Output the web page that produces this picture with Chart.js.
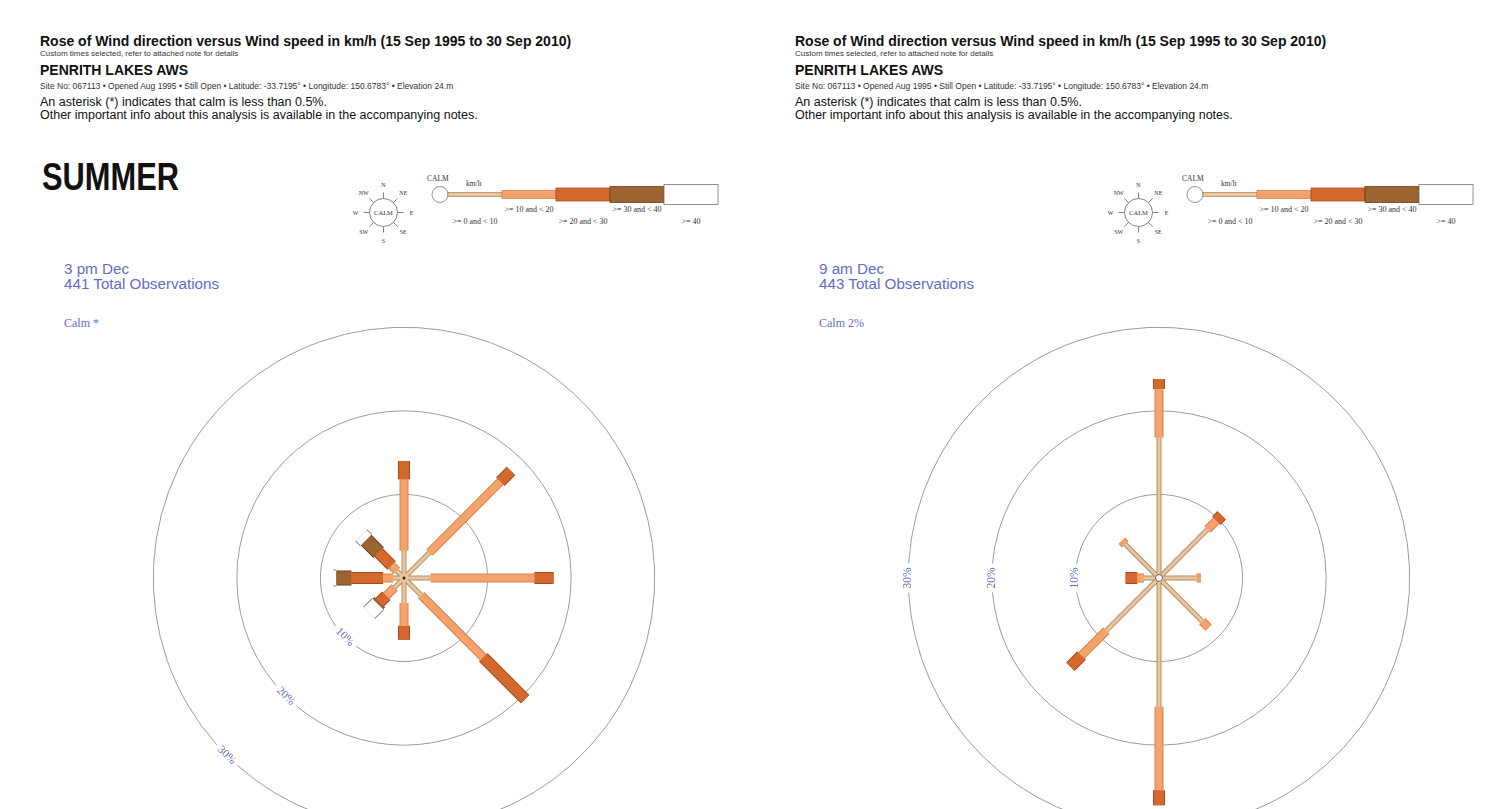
<!DOCTYPE html>
<html>
<head>
<meta charset="utf-8">
<title>Rose of Wind direction versus Wind speed</title>
<script src="https://cdn.jsdelivr.net/npm/chart.js@4.4.1/dist/chart.umd.min.js"></script>
<style>
  html, body { margin: 0; padding: 0; background: #fff; width: 1509px; height: 809px; overflow: hidden; }
  body { position: relative; font-family: "Liberation Sans", Arial, sans-serif; color: #111; }
  .panel { position: absolute; top: 0; width: 755px; height: 809px; }
  .t { position: absolute; white-space: nowrap; }
  .title { left: 40px; top: 34px; font-size: 14px; line-height: 14px; font-weight: bold; }
  .small { left: 40px; font-size: 8.5px; line-height: 8.5px; color: #333; }
  .station { left: 40px; top: 62.5px; font-size: 14px; line-height: 14px; font-weight: bold; }
  .note { left: 40px; top: 96px; font-size: 12.5px; line-height: 12.6px; }
  .season { left: 42px; top: 157px; font-weight: bold; font-size: 39px; line-height: 39px; transform: scaleX(0.79); transform-origin: 0 0; }
  .obs { left: 64px; top: 261px; font-size: 15.2px; line-height: 15px; color: #5f6ec8; }
  .calm { left: 64px; top: 317px; font-family: "Liberation Serif", serif; font-size: 12px; line-height: 12px; color: #5f6ec8; }
  .key { position: absolute; left: 340px; top: 170px; }
  .key text { font-family: "Liberation Serif", serif; fill: #333; }
  canvas.rose { position: absolute; left: 124px; top: 298px; }
</style>
</head>
<body>

<div class="panel" style="left:0px">
  <div class="t title">Rose of Wind direction versus Wind speed in km/h (15 Sep 1995 to 30 Sep 2010)</div>
  <div class="t small" style="top:49.5px; font-size:8px">Custom times selected, refer to attached note for details</div>
  <div class="t station">PENRITH LAKES AWS</div>
  <div class="t small" style="top:82px">Site No: 067113 • Opened Aug 1995 • Still Open • Latitude: -33.7195° • Longitude: 150.6783° • Elevation 24.m</div>
  <div class="t note">An asterisk (*) indicates that calm is less than 0.5%.<br>Other important info about this analysis is available in the accompanying notes.</div>
  <div class="t season">SUMMER</div>
  <svg class="key" width="390" height="75"></svg>
  <div class="t obs">3 pm Dec<br>441 Total Observations</div>
  <div class="t calm">Calm *</div>
  <canvas class="rose" id="rosePm" width="560" height="560"></canvas>
</div>

<div class="panel" style="left:755px">
  <div class="t title">Rose of Wind direction versus Wind speed in km/h (15 Sep 1995 to 30 Sep 2010)</div>
  <div class="t small" style="top:49.5px; font-size:8px">Custom times selected, refer to attached note for details</div>
  <div class="t station">PENRITH LAKES AWS</div>
  <div class="t small" style="top:82px">Site No: 067113 • Opened Aug 1995 • Still Open • Latitude: -33.7195° • Longitude: 150.6783° • Elevation 24.m</div>
  <div class="t note">An asterisk (*) indicates that calm is less than 0.5%.<br>Other important info about this analysis is available in the accompanying notes.</div>
  <svg class="key" width="390" height="75"></svg>
  <div class="t obs">9 am Dec<br>443 Total Observations</div>
  <div class="t calm">Calm 2%</div>
  <canvas class="rose" id="roseAm" width="560" height="560"></canvas>
</div>

<script>
// wind rose data, % of observations, one array per speed class (order follows directions)
const directions = ['N', 'NE', 'E', 'SE', 'S', 'SW', 'W', 'NW'];
const directionAngles = [0, 45, 90, 135, 180, 225, 270, 315];
const speedClasses = ['>= 0 and < 10', '>= 10 and < 20', '>= 20 and < 30', '>= 30 and < 40', '>= 40'];
const ringLevels = [10, 20, 30];

// 3 pm Dec
const pm3Speed0to10  = [3.3, 4.3, 3.2, 2.9, 3.0, 1.6, 1.3, 1.2];
const pm3Speed10to20 = [8.5, 12.0, 12.4, 10.5, 2.7, 1.4, 1.2, 0.9];
const pm3Speed20to30 = [2.2, 1.8, 2.3, 7.1, 1.7, 1.1, 3.8, 2.2];
const pm3Speed30to40 = [0, 0, 0, 0, 0, 0.3, 1.8, 2.1];
const pm3Speed40up   = [0, 0, 0, 0, 0, 1.5, 0.4, 0.8];
const pm3Calm = 0;   // shown as "*"

// 9 am Dec
const am9Speed0to10  = [16.8, 8.2, 4.5, 7.3, 15.4, 8.9, 1.8, 5.7];
const am9Speed10to20 = [5.8, 1.5, 0.5, 1.1, 10.0, 4.2, 0.8, 0.6];
const am9Speed20to30 = [1.2, 0.9, 0, 0, 1.8, 1.9, 1.4, 0];
const am9Speed30to40 = [0, 0, 0, 0, 0, 0, 0, 0];
const am9Speed40up   = [0, 0, 0, 0, 0, 0, 0, 0];
const am9Calm = 2;

const speedColors = ['#e8c79f', '#f5a36c', '#d5692d', '#9d6330', '#ffffff'];
const speedEdges  = ['#b48d63', '#d8814a', '#a24b1c', '#684020', '#8a8a8a'];
const barWidths   = [3, 7, 10, 13, 15];   // px on the rose
const keyHeights  = [4, 8, 13, 16, 20];   // px in the key
const textBlue = '#5f6ec8';

function segmentData(classes, k) {
  const pts = [];
  directions.forEach((d, i) => {
    const v = classes[k][i];
    if (!v) return;
    let r0 = 0;
    for (let j = 0; j < k; j++) r0 += classes[j][i];
    const r1 = r0 + v;
    const a = directionAngles[i] * Math.PI / 180;
    pts.push({ x: r0 * Math.sin(a), y: r0 * Math.cos(a) });
    pts.push({ x: r1 * Math.sin(a), y: r1 * Math.cos(a) });
    pts.push({ x: null, y: null });
  });
  return pts;
}

function roseDatasets(classes) {
  const ds = [];
  speedClasses.forEach((name, k) => {
    const common = { showLine: true, spanGaps: false, pointRadius: 0, fill: false, borderCapStyle: 'butt' };
    ds.push({ ...common, label: name + ' edge', data: segmentData(classes, k), borderColor: speedEdges[k], borderWidth: barWidths[k] + 2, order: 2 });
    ds.push({ ...common, label: name, data: segmentData(classes, k), borderColor: speedColors[k], borderWidth: barWidths[k], order: 1 });
  });
  return ds;
}

// rings with their % labels, and the calm circle in the middle
const roseFrame = {
  id: 'roseFrame',
  beforeDatasetsDraw(chart, args, opts) {
    const { ctx, scales: { x, y } } = chart;
    const cx = x.getPixelForValue(0), cy = y.getPixelForValue(0);
    const a = (opts.labelBearing - 90) * Math.PI / 180;
    ctx.save();
    ctx.font = '11.5px "Liberation Serif", serif';
    ctx.textAlign = 'center';
    ctx.textBaseline = 'middle';
    ringLevels.forEach(level => {
      const r = x.getPixelForValue(level) - cx;
      const text = level + '%';
      const gap = (ctx.measureText(text).width / 2 + 4) / r;
      ctx.beginPath();
      ctx.arc(cx, cy, r, a + gap, a - gap + Math.PI * 2);
      ctx.strokeStyle = '#9c9c9c';
      ctx.lineWidth = 1;
      ctx.stroke();
      ctx.save();
      ctx.translate(cx + r * Math.cos(a), cy + r * Math.sin(a));
      ctx.rotate(opts.labelRotation * Math.PI / 180);
      ctx.fillStyle = textBlue;
      ctx.fillText(text, 0, 0);
      ctx.restore();
    });
    ctx.restore();
  },
  afterDatasetsDraw(chart, args, opts) {
    const { ctx, scales: { x, y } } = chart;
    const cx = x.getPixelForValue(0), cy = y.getPixelForValue(0);
    ctx.save();
    ctx.beginPath();
    if (opts.calm > 0) {
      ctx.arc(cx, cy, 1.5 + opts.calm, 0, Math.PI * 2);
      ctx.fillStyle = '#fff';
      ctx.fill();
      ctx.strokeStyle = '#6b5a4a';
      ctx.lineWidth = 1;
      ctx.stroke();
    } else {
      ctx.arc(cx, cy, 1.5, 0, Math.PI * 2);
      ctx.fillStyle = '#222';
      ctx.fill();
    }
    ctx.restore();
  }
};

function makeRose(id, classes, calm, labelBearing, labelRotation) {
  return new Chart(document.getElementById(id), {
    type: 'scatter',
    data: { datasets: roseDatasets(classes) },
    options: {
      responsive: false,
      animation: false,
      events: [],
      layout: { padding: 0 },
      scales: {
        x: { type: 'linear', min: -33.5, max: 33.5, display: false },
        y: { type: 'linear', min: -33.5, max: 33.5, display: false }
      },
      plugins: {
        legend: { display: false },
        tooltip: { enabled: false },
        roseFrame: { calm, labelBearing, labelRotation }
      }
    },
    plugins: [roseFrame]
  });
}

// compass + speed key, drawn the same in both panels
function buildKey(svg) {
  const ns = 'http://www.w3.org/2000/svg';
  const add = (tag, attrs, text) => {
    const el = document.createElementNS(ns, tag);
    for (const k in attrs) el.setAttribute(k, attrs[k]);
    if (text) el.textContent = text;
    svg.appendChild(el);
    return el;
  };
  const ox = 43.5, oy = 42.5;
  add('circle', { cx: ox, cy: oy, r: 14, fill: '#fff', stroke: '#666', 'stroke-width': 0.8 });
  add('text', { x: ox, y: oy + 2.3, 'font-size': 6.5, 'text-anchor': 'middle' }, 'CALM');
  directions.forEach((d, i) => {
    const a = directionAngles[i] * Math.PI / 180;
    const sx = Math.sin(a), sy = -Math.cos(a);
    add('line', { x1: ox + 14 * sx, y1: oy + 14 * sy, x2: ox + 20 * sx, y2: oy + 20 * sy, stroke: '#666', 'stroke-width': 0.8 });
    add('text', { x: ox + 28 * sx, y: oy + 28 * sy + 2.2, 'font-size': 6, 'text-anchor': 'middle' }, d);
  });

  add('text', { x: 87, y: 11, 'font-size': 7.5 }, 'CALM');
  add('text', { x: 126, y: 16, 'font-size': 7.5 }, 'km/h');
  add('circle', { cx: 100, cy: 24.5, r: 8, fill: '#fff', stroke: '#777', 'stroke-width': 0.8 });
  speedClasses.forEach((name, k) => {
    const x = 108 + k * 54, h = keyHeights[k];
    add('rect', { x, y: 24.5 - h / 2, width: 54, height: h, fill: speedColors[k], stroke: k === 4 ? '#777' : speedEdges[k], 'stroke-width': 0.8 });
    add('text', { x: x + 27, y: k % 2 ? 42 : 53.5, 'font-size': 8, 'text-anchor': 'middle' }, name);
  });
}

document.querySelectorAll('svg.key').forEach(buildKey);

makeRose('rosePm', [pm3Speed0to10, pm3Speed10to20, pm3Speed20to30, pm3Speed30to40, pm3Speed40up], pm3Calm, 225, 45);
makeRose('roseAm', [am9Speed0to10, am9Speed10to20, am9Speed20to30, am9Speed30to40, am9Speed40up], am9Calm, 270, -90);
</script>
</body>
</html>
